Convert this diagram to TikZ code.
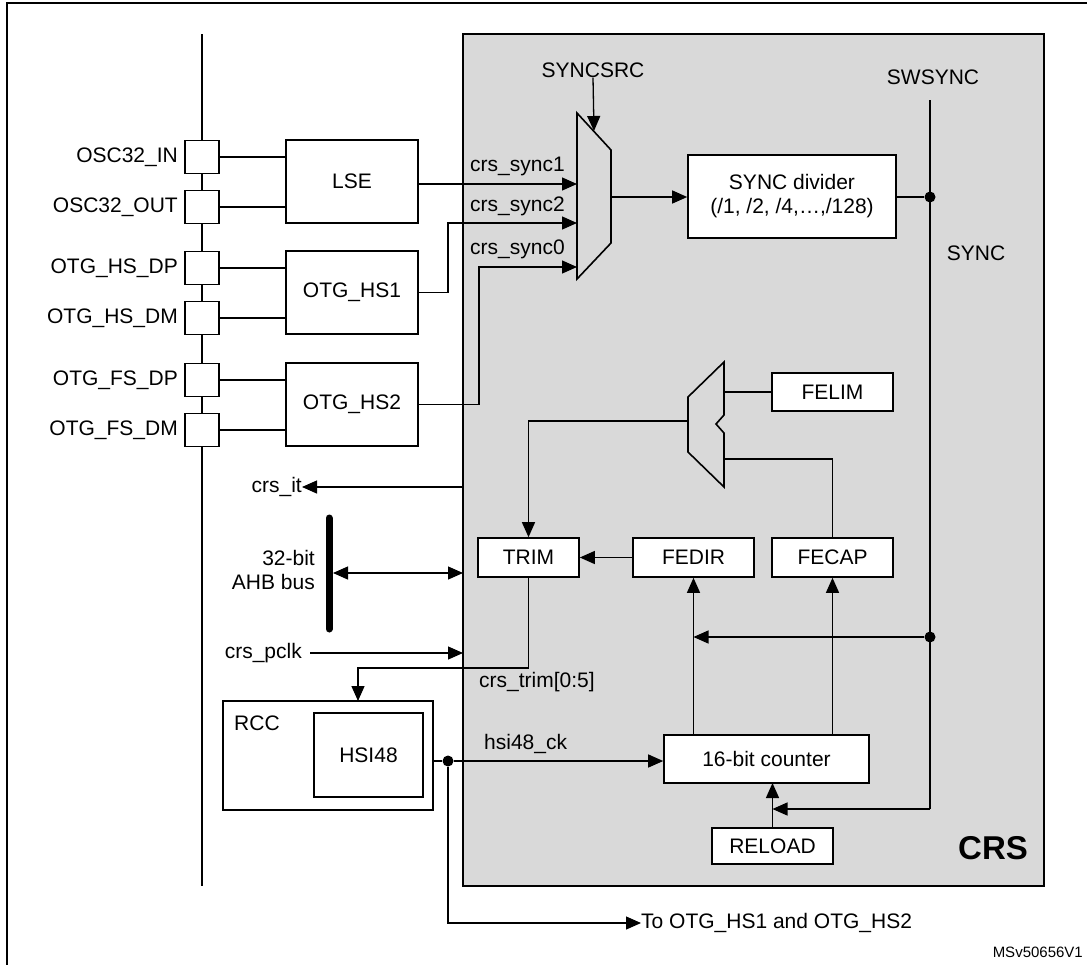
\documentclass[tikz,border=0pt]{standalone}
\usepackage{fontspec}
\setmainfont{Liberation Sans}
\usetikzlibrary{arrows.meta}
\definecolor{crsgray}{HTML}{D9D9D9}
\begin{document}
\begin{tikzpicture}[x=1pt,y=-1pt,
  box/.style={draw,line width=1.6pt,fill=white,inner sep=0pt,font=\fontsize{21}{24}\selectfont,align=center},
  pad/.style={draw,line width=1.6pt,fill=white,minimum width=34pt,minimum height=33pt,inner sep=0pt},
  lbl/.style={font=\fontsize{21}{24}\selectfont,inner sep=0pt},
  wire/.style={line width=1.3pt},
  arr/.style={wire,-{Triangle[length=15pt,width=13pt]}},
  dot/.style={circle,fill=black,inner sep=0pt,minimum size=11pt}]
\useasboundingbox (0,0) rectangle (1087,964);
% frame
\draw[line width=1.6pt] (7,1100) -- (7,3) -- (1200,3);
% CRS area
\draw[line width=2pt,fill=crsgray] (463,34) rectangle (1044,886);
\node[font=\fontsize{33}{36}\selectfont\bfseries,inner sep=0pt] (crs) at (993,848) {CRS};
% left bus line
\coordinate (bt) at (202,34); \coordinate (bb) at (202,886);
\draw[wire] (bt) -- (bb);
% pads
\node[pad] (p1) at (202,157) {}; \node[lbl,anchor=east] (l1) at (178,157) {OSC32\_IN};
\node[pad] (p2) at (202,207) {}; \node[lbl,anchor=east] (l2) at (178,207) {OSC32\_OUT};
\node[pad] (p3) at (202,268) {}; \node[lbl,anchor=east] (l3) at (178,268) {OTG\_HS\_DP};
\node[pad] (p4) at (202,318) {}; \node[lbl,anchor=east] (l4) at (178,318) {OTG\_HS\_DM};
\node[pad] (p5) at (202,380) {}; \node[lbl,anchor=east] (l5) at (178,380) {OTG\_FS\_DP};
\node[pad] (p6) at (202,430) {}; \node[lbl,anchor=east] (l6) at (178,430) {OTG\_FS\_DM};
% LSE / OTG blocks
\node[box,minimum width=132pt,minimum height=83pt] (lse) at (352,181.5) {LSE};
\node[box,minimum width=132pt,minimum height=83pt] (hs1) at (352,292.5) {OTG\_HS1};
\node[box,minimum width=132pt,minimum height=83pt] (hs2) at (352,404.5) {OTG\_HS2};
\draw[wire] (p1.east) -- (p1.east -| lse.west);
\draw[wire] (p2.east) -- (p2.east -| lse.west);
\draw[wire] (p3.east) -- (p3.east -| hs1.west);
\draw[wire] (p4.east) -- (p4.east -| hs1.west);
\draw[wire] (p5.east) -- (p5.east -| hs2.west);
\draw[wire] (p6.east) -- (p6.east -| hs2.west);
% SYNCSRC mux
\draw[line width=1.6pt,fill=crsgray] (577,113) -- (611,150) -- (611,243) -- (577,279) -- cycle;
\coordinate (m1a) at (577,184); \coordinate (m1b) at (577,223); \coordinate (m1c) at (577,267);
\coordinate (m1o) at (611,197); \coordinate (m1s) at (594,131);
\node[lbl] (syncsrc) at (593,70) {SYNCSRC};
\draw[arr] (syncsrc.south) -- (m1s);
\draw[arr] (lse.east |- m1a) -- (m1a);
\draw[arr] (hs1.east) -- (448,292.5) -- (448,223) -- (m1b);
\draw[arr] (hs2.east) -- (479,404.5) -- (479,267) -- (m1c);
\node[lbl,anchor=south west] (s1) at (470,176) {crs\_sync1};
\node[lbl,anchor=south west] (s2) at (470,216) {crs\_sync2};
\node[lbl,anchor=south west] (s0) at (470,259) {crs\_sync0};
% SYNC divider
\node[box,minimum width=208pt,minimum height=83pt] (div) at (792,196.5) {SYNC divider\\(/1, /2, /4,\ldots,/128)};
\draw[arr] (m1o) -- (m1o -| div.west);
\node[lbl] (swsync) at (933,77) {SWSYNC};
\node[lbl] (synct) at (976,253) {SYNC};
\node[dot] (d1) at (930,197) {};
\node[dot] (d2) at (930,637) {};
\coordinate (swtop) at (930,100); \coordinate (swbot) at (930,809);
\draw[wire] (div.east |- d1) -- (d1);
\draw[wire] (swtop) -- (swbot);
% FELIM mux
\draw[line width=1.6pt,fill=crsgray] (724,362) -- (724,415) -- (716,424) -- (724,433) -- (724,487) -- (688,452) -- (688,397) -- cycle;
\node[box,minimum width=121pt,minimum height=38pt] (felim) at (832.5,392) {FELIM};
\node[box,minimum width=101pt,minimum height=39pt] (trim) at (528.5,557.5) {TRIM};
\node[box,minimum width=121pt,minimum height=39pt] (fedir) at (693.5,557.5) {FEDIR};
\node[box,minimum width=121pt,minimum height=39pt] (fecap) at (832.5,557.5) {FECAP};
\draw[wire] (724,392) -- (felim.west);
\draw[wire] (fecap.north) -- (832.5,459) -- (724,459);
\draw[arr] (688,421) -- (528.5,421) -- (trim.north);
\draw[arr] (fedir.west) -- (trim.east);
% counter
\node[box,minimum width=205pt,minimum height=48pt] (cnt) at (766.5,759) {16-bit counter};
\node[box,minimum width=121pt,minimum height=36pt] (rel) at (772.5,846) {RELOAD};
\draw[arr] (cnt.north -| fedir.south) -- (fedir.south);
\draw[arr] (cnt.north -| fecap.south) -- (fecap.south);
\draw[arr] (d2) -- (693.5,637);
\draw[arr] (rel.north) -- (772.5,783);
\draw[arr] (swbot) -- (772.5,809);
% left side signals
\node[lbl,anchor=east] (crsit) at (302,487) {crs\_it};
\draw[arr] (463,487) -- (crsit.east);
\draw[line width=7pt,line cap=round] (329,518) -- (329,629);
\coordinate (ahb) at (333,573);
\draw[wire,{Triangle[length=15pt,width=13pt]}-{Triangle[length=15pt,width=13pt]}] (ahb) -- (463,573);
\node[lbl,anchor=east,align=right] (ahbt) at (315,570) {32-bit\\AHB bus};
\node[lbl,anchor=east] (pclk) at (302,653) {crs\_pclk};
\coordinate (pclks) at (310,653);
\draw[arr] (pclks) -- (463,653);
% RCC
\node[draw,line width=1.6pt,fill=white,minimum width=210pt,minimum height=109pt,inner sep=0pt] (rcc) at (328,755.5) {};
\node[lbl,anchor=north west] (rcct) at (234,716) {RCC};
\node[box,minimum width=109pt,minimum height=84pt] (hsi) at (368.5,755) {HSI48};
\draw[arr] (trim.south) -- (528.5,668) -- (358,668) -- (358,701);
\node[lbl,anchor=north west] (trimt) at (479,672) {crs\_trim[0:5]};
\node[dot] (d3) at (448,761) {};
\draw[wire] (rcc.east |- d3) -- (d3);
\draw[arr] (d3) -- (cnt.west |- d3);
\node[lbl,anchor=south west] (hsit) at (484,754) {hsi48\_ck};
\node[lbl,anchor=west] (tootg) at (641,923) {To OTG\_HS1 and OTG\_HS2};
\draw[arr] (d3) -- (448,923) -- (tootg.west);
\node[font=\fontsize{15}{17}\selectfont,inner sep=0pt,anchor=east] (ms) at (1083,952) {MSv50656V1};
\end{tikzpicture}
\end{document}
